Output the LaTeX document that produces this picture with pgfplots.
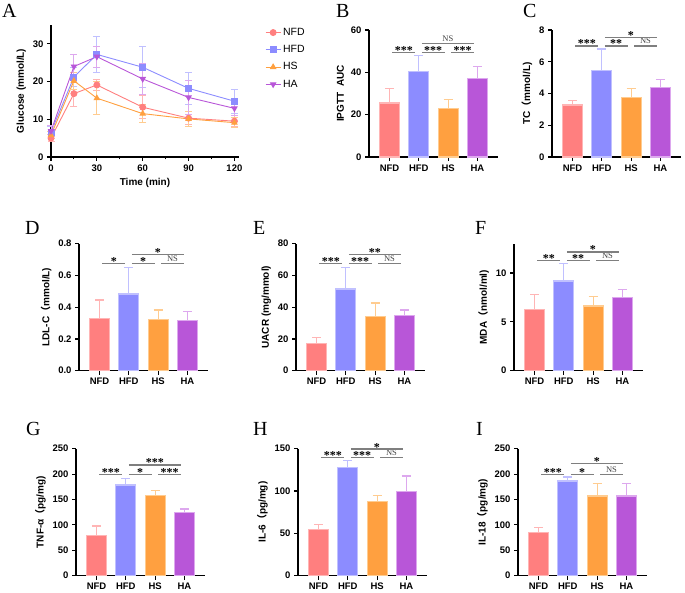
\documentclass[border=0pt]{standalone}
\usepackage{pgfplots}
\pgfplotsset{compat=1.18}
\usepackage{fontspec}
\setmainfont{Liberation Sans}
\newfontfamily\serif{Liberation Serif}
\newfontfamily\cjk{Noto Sans CJK SC}

\definecolor{nfd}{HTML}{FF7F7F}
\definecolor{nfdL}{HTML}{FFB5B5}
\definecolor{hfd}{HTML}{8C8CFF}
\definecolor{hfdL}{HTML}{C0C0FF}
\definecolor{hs}{HTML}{FFA040}
\definecolor{hsL}{HTML}{FFCC90}
\definecolor{ha}{HTML}{B856D8}
\definecolor{haL}{HTML}{DDA8EE}
\definecolor{sigc}{HTML}{7F7F7F}

\newcommand{\fp}{{\cjk （}}

% significance bracket with stars / NS
\newcommand{\sig}[4]{\draw[sigc, line width=1.3pt] (axis cs:#1+0.1,#3) -- (axis cs:#2-0.12,#3)
  node[midway, anchor=base, yshift=-2pt, inner sep=0pt, font=\serif\bfseries\fontsize{12}{12}\selectfont, black] {#4};}
\newcommand{\ns}[3]{\draw[sigc, line width=1.3pt] (axis cs:#1+0.1,#3) -- (axis cs:#2-0.12,#3)
  node[midway, anchor=base, yshift=2pt, inner sep=0pt, font=\serif\fontsize{8.5}{8.5}\selectfont, black!75] {NS};}

\pgfplotsset{
  prism/.style={
    scale only axis,
    axis x line*=bottom, axis y line*=left,
    axis line style={line width=1.3pt, black},
    tick align=outside,
    major tick length=4pt,
    minor tick length=2.5pt,
    tick style={line width=1.1pt, black},
    ymin=0,
    tick label style={font=\fontsize{9.5}{10}\selectfont\bfseries},
    /pgf/number format/assume math mode=true,
    label style={font=\fontsize{10}{11}\selectfont\bfseries},
    clip=false,
  },
  barpanel/.style={
    prism, anchor=south west, width=129pt, height=127pt,
    xmin=-0.7, xmax=3.7, xtick={0,1,2,3}, xticklabels={NFD,HFD,HS,HA},
    error bars/y dir=plus, error bars/y explicit,
  },
  g/.style n args={2}{ybar, bar width=20pt, bar shift=0pt, fill=#1, draw=#2, line width=1.2pt,
    error bars/error bar style={#2, line width=1.2pt},
    error bars/error mark options={rotate=90, mark size=4.5pt, line width=1.2pt, #2}},
  g1/.style={g={nfd}{nfdL}},
  g2/.style={g={hfd}{hfdL}},
  g3/.style={g={hs}{hsL}},
  g4/.style={g={ha}{haL}},
  l/.style n args={4}{color=#1, line width=0.9pt, mark=#3, mark size=3pt,
    mark options={solid, fill=#1, draw=#1, rotate=#4},
    error bars/y dir=both, error bars/y explicit,
    error bars/error bar style={#2, line width=1pt},
    error bars/error mark options={rotate=90, mark size=3.5pt, line width=1pt, #2}},
}

\begin{document}
\begin{tikzpicture}
\useasboundingbox (0,0) rectangle (685pt,592pt);

% panel letters
\foreach \t/\x/\y in {A/2/574, B/336/574, C/523/574, D/25/357, E/253/357, F/475/357, G/26/157, H/253/157, I/476/157}
  \node[anchor=base west, inner sep=0pt, font=\serif\fontsize{20}{20}\selectfont] at (\x pt,\y pt) {\t};

% A: glucose tolerance curves
\begin{axis}[prism, at={(51pt,435pt)}, anchor=south west, width=188pt, height=132pt,
  xmin=0, xmax=123, ymax=35, xtick={0,30,60,90,120}, minor xtick={15,45,75,105},
  ytick={0,10,20,30}, xlabel={Time (min)}, ylabel={Glucose (mmol/L)},
  legend style={at={(1,1)}, anchor=north west, xshift=23pt, yshift=1pt, draw=none, fill=none,
    font=\fontsize{10.5}{12}\selectfont, row sep=4.5pt, legend cell align=left},
  legend image code/.code={\draw[mark repeat=2, mark phase=2, #1] plot coordinates {(0pt,0pt) (7.5pt,0pt) (15pt,0pt)};}]
\addplot[l={nfd}{nfdL}{*}{0}] coordinates {(0,5.0) +- (0,1.0) (15,16.8) +- (0,3.4) (30,19.1) +- (0,1.5) (60,13.2) +- (0,3.0) (90,10.3) +- (0,1.8) (120,9.5) +- (0,1.5)};
\addplot[l={hfd}{hfdL}{square*}{0}] coordinates {(0,6.6) +- (0,1.6) (15,21.2) +- (0,2.5) (30,27.2) +- (0,4.7) (60,23.8) +- (0,5.5) (90,18.2) +- (0,4.3) (120,14.8) +- (0,3.2)};
\addplot[l={hs}{hsL}{triangle*}{0}] coordinates {(0,5.8) +- (0,1.0) (15,20.2) +- (0,2.2) (30,15.6) +- (0,4.4) (60,11.5) +- (0,2.3) (90,10.1) +- (0,2.0) (120,9.1) +- (0,1.3)};
\addplot[l={ha}{haL}{triangle*}{180}] coordinates {(0,6.9) +- (0,1.5) (15,24.0) +- (0,3.2) (30,26.6) +- (0,2.8) (60,20.7) +- (0,4.2) (90,15.8) +- (0,4.5) (120,12.9) +- (0,2.0)};
\legend{NFD,HFD,HS,HA}
\end{axis}

% B: IPGTT AUC
\begin{axis}[barpanel, at={(369pt,435pt)}, ymax=60, ytick={0,20,40,60}, ylabel={IPGTT~~AUC}]
\addplot[g1] coordinates {(0,25.5) +- (0,6.8)};
\addplot[g2] coordinates {(1,40.5) +- (0,7.6)};
\addplot[g3] coordinates {(2,22.8) +- (0,4.4)};
\addplot[g4] coordinates {(3,37.1) +- (0,5.5)};
\sig{0}{1}{49.4}{***}
\sig{1}{2}{49.4}{***}
\sig{2}{3}{49.4}{***}
\ns{1}{3}{53.7}
\end{axis}

% C: TC
\begin{axis}[barpanel, at={(552pt,435pt)}, ymax=8, ytick={0,2,4,6,8}, ylabel={TC\fp mmol/L)}]
\addplot[g1] coordinates {(0,3.27) +- (0,0.31)};
\addplot[g2] coordinates {(1,5.43) +- (0,1.37)};
\addplot[g3] coordinates {(2,3.75) +- (0,0.56)};
\addplot[g4] coordinates {(3,4.36) +- (0,0.54)};
\sig{0}{1}{7.0}{***}
\sig{1}{2}{7.0}{**}
\ns{2}{3}{7.0}
\sig{1}{3}{7.54}{*}
\end{axis}

% D: LDL-C
\begin{axis}[barpanel, at={(79pt,221.3pt)}, ymax=0.8, ytick={0,0.2,0.4,0.6,0.8},
  yticklabel style={/pgf/number format/.cd, fixed, fixed zerofill, precision=1},
  ylabel={LDL-C\fp mmol/L)}]
\addplot[g1] coordinates {(0,0.331) +- (0,0.115)};
\addplot[g2] coordinates {(1,0.483) +- (0,0.167)};
\addplot[g3] coordinates {(2,0.323) +- (0,0.060)};
\addplot[g4] coordinates {(3,0.317) +- (0,0.054)};
\sig{0}{1}{0.677}{*}
\sig{1}{2}{0.677}{*}
\ns{2}{3}{0.677}
\sig{1}{3}{0.733}{*}
\end{axis}

% E: UACR
\begin{axis}[barpanel, at={(296pt,221.3pt)}, ymax=80, ytick={0,20,40,60,80}, ylabel={UACR (mg/mmol)}]
\addplot[g1] coordinates {(0,17.1) +- (0,3.7)};
\addplot[g2] coordinates {(1,51.5) +- (0,13.5)};
\addplot[g3] coordinates {(2,34.0) +- (0,8.7)};
\addplot[g4] coordinates {(3,34.6) +- (0,3.7)};
\sig{0}{1}{67.5}{***}
\sig{1}{2}{67.5}{***}
\ns{2}{3}{67.5}
\sig{1}{3}{73.1}{**}
\end{axis}

% F: MDA
\begin{axis}[barpanel, at={(514pt,221.3pt)}, ymax=13, ytick={0,5,10}, ylabel={MDA\fp nmol/ml)}]
\addplot[g1] coordinates {(0,6.25) +- (0,1.59)};
\addplot[g2] coordinates {(1,9.19) +- (0,1.76)};
\addplot[g3] coordinates {(2,6.62) +- (0,0.98)};
\addplot[g4] coordinates {(3,7.53) +- (0,0.81)};
\sig{0}{1}{11.28}{**}
\sig{1}{2}{11.28}{**}
\ns{2}{3}{11.28}
\sig{1}{3}{12.16}{*}
\end{axis}

% G: TNF-alpha
\begin{axis}[barpanel, at={(76pt,16.3pt)}, ymax=250, ytick={0,50,100,150,200,250}, ylabel={TNF-α\fp pg/mg)}]
\addplot[g1] coordinates {(0,79.8) +- (0,18.2)};
\addplot[g2] coordinates {(1,178.7) +- (0,12.3)};
\addplot[g3] coordinates {(2,158.4) +- (0,9.6)};
\addplot[g4] coordinates {(3,124.3) +- (0,7.2)};
\sig{0}{1}{199.6}{***}
\sig{1}{2}{199.6}{*}
\sig{2}{3}{199.6}{***}
\sig{1}{3}{218}{***}
\end{axis}

% H: IL-6
\begin{axis}[barpanel, at={(298pt,16.3pt)}, ymax=150, ytick={0,50,100,150}, ylabel={IL-6\fp pg/mg)}]
\addplot[g1] coordinates {(0,55.0) +- (0,5.5)};
\addplot[g2] coordinates {(1,128.0) +- (0,7.8)};
\addplot[g3] coordinates {(2,87.2) +- (0,7.8)};
\addplot[g4] coordinates {(3,99.7) +- (0,18.1)};
\sig{0}{1}{139.4}{***}
\sig{1}{2}{139.4}{***}
\ns{2}{3}{139.4}
\sig{1}{3}{149.6}{*}
\end{axis}

% I: IL-18
\begin{axis}[barpanel, at={(518pt,16.3pt)}, ymax=250, ytick={0,50,100,150,200,250}, ylabel={IL-18\fp pg/mg)}]
\addplot[g1] coordinates {(0,85.0) +- (0,10.0)};
\addplot[g2] coordinates {(1,186.5) +- (0,7.9)};
\addplot[g3] coordinates {(2,157.0) +- (0,24.0)};
\addplot[g4] coordinates {(3,157.0) +- (0,24.0)};
\sig{0}{1}{199.6}{***}
\sig{1}{2}{199.6}{*}
\ns{2}{3}{199.6}
\sig{1}{3}{220.5}{*}
\end{axis}
\end{tikzpicture}
\end{document}
